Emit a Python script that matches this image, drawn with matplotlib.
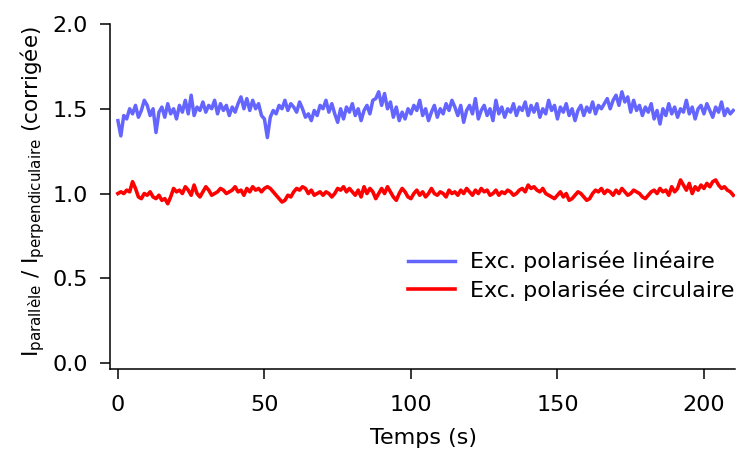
import numpy as np
import matplotlib
matplotlib.use("Agg")
import matplotlib.pyplot as plt

# time axis (s), one sample per second
temps = np.arange(0, 211)

# Exc. polarisée linéaire
lineaire = [
    1.43, 1.34, 1.46, 1.44, 1.50, 1.47, 1.52, 1.45, 1.49, 1.55,
    1.52, 1.46, 1.50, 1.36, 1.48, 1.51, 1.45, 1.53, 1.47, 1.50,
    1.44, 1.52, 1.48, 1.55, 1.47, 1.58, 1.46, 1.51, 1.49, 1.54,
    1.48, 1.52, 1.50, 1.55, 1.47, 1.53, 1.49, 1.52, 1.46, 1.51,
    1.48, 1.53, 1.57, 1.50, 1.56, 1.49, 1.55, 1.50, 1.53, 1.46,
    1.44, 1.33, 1.45, 1.49, 1.47, 1.52, 1.50, 1.55, 1.49, 1.53,
    1.51, 1.48, 1.54, 1.50, 1.45, 1.47, 1.43, 1.49, 1.46, 1.52,
    1.50, 1.55, 1.48, 1.53, 1.47, 1.42, 1.50, 1.44, 1.51, 1.48,
    1.53, 1.46, 1.50, 1.43, 1.49, 1.52, 1.47, 1.55, 1.56, 1.60,
    1.52, 1.59, 1.50, 1.54, 1.45, 1.51, 1.43, 1.48, 1.44, 1.50,
    1.47, 1.52, 1.49, 1.55, 1.46, 1.50, 1.43, 1.48, 1.52, 1.45,
    1.50, 1.47, 1.53, 1.49, 1.55, 1.51, 1.46, 1.52, 1.42, 1.49,
    1.52, 1.47, 1.56, 1.44, 1.49, 1.52, 1.46, 1.50, 1.43, 1.55,
    1.47, 1.51, 1.45, 1.50, 1.48, 1.53, 1.46, 1.51, 1.49, 1.54,
    1.46, 1.52, 1.48, 1.53, 1.45, 1.50, 1.47, 1.55, 1.49, 1.52,
    1.44, 1.51, 1.48, 1.53, 1.46, 1.50, 1.43, 1.49, 1.52, 1.46,
    1.51, 1.48, 1.54, 1.47, 1.52, 1.50, 1.53, 1.56, 1.50, 1.55,
    1.58, 1.52, 1.60, 1.54, 1.57, 1.48, 1.55, 1.49, 1.52, 1.46,
    1.51, 1.48, 1.53, 1.44, 1.49, 1.41, 1.50, 1.46, 1.53, 1.47,
    1.51, 1.45, 1.50, 1.48, 1.55, 1.47, 1.51, 1.44, 1.50, 1.52,
    1.47, 1.53, 1.49, 1.45, 1.51, 1.48, 1.54, 1.46, 1.50, 1.47, 1.49,
]

# Exc. polarisée circulaire
circulaire = [
    1.00, 1.01, 1.00, 1.02, 1.01, 1.07, 1.03, 0.98, 0.97, 1.00,
    0.99, 1.01, 0.98, 0.97, 0.99, 0.96, 0.97, 0.94, 0.98, 1.03,
    1.01, 1.02, 1.00, 1.04, 1.02, 0.99, 1.05, 1.00, 0.98, 1.01,
    1.04, 1.02, 0.99, 1.00, 1.01, 1.03, 1.02, 1.00, 1.01, 1.02,
    1.04, 1.01, 1.02, 0.99, 1.03, 1.01, 1.04, 1.02, 1.03, 1.01,
    1.03, 1.04, 1.03, 1.01, 0.99, 0.97, 0.95, 0.96, 0.99, 0.98,
    1.01, 1.03, 1.02, 1.04, 1.03, 1.00, 1.02, 0.99, 1.00, 1.01,
    0.99, 1.01, 1.00, 0.98, 1.00, 1.03, 1.02, 1.04, 1.01, 1.03,
    1.01, 0.99, 1.02, 0.98, 1.04, 1.00, 1.03, 1.01, 0.97, 1.00,
    1.03, 1.00, 1.04, 1.01, 0.98, 0.96, 1.00, 1.03, 1.01, 0.98,
    0.97, 1.00, 1.02, 0.99, 1.01, 0.98, 1.00, 1.03, 1.00, 0.99,
    1.01, 1.00, 0.98, 1.02, 1.00, 1.01, 0.99, 1.02, 1.00, 1.03,
    1.01, 0.99, 1.02, 1.00, 1.03, 1.01, 1.02, 0.99, 1.00, 1.02,
    0.99, 1.01, 1.00, 1.02, 1.01, 0.99, 1.00, 1.02, 1.03, 1.01,
    1.05, 1.03, 1.04, 1.02, 1.01, 1.03, 1.00, 0.99, 0.98, 0.97,
    0.99, 1.01, 0.98, 1.00, 0.96, 0.97, 0.99, 1.01, 1.00, 0.98,
    0.96, 0.97, 1.00, 1.02, 1.01, 1.03, 1.00, 1.02, 1.01, 0.99,
    1.02, 1.00, 1.03, 1.01, 0.99, 1.00, 1.02, 1.01, 1.00, 0.98,
    0.97, 0.99, 1.01, 1.02, 1.00, 1.03, 1.01, 1.02, 0.99, 1.04,
    1.01, 1.03, 1.08, 1.05, 1.02, 1.06, 1.00, 1.04, 1.02, 1.05,
    1.03, 1.06, 1.04, 1.07, 1.08, 1.05, 1.03, 1.04, 1.02, 1.01, 0.99,
]

labels = ["Exc. polarisée linéaire", "Exc. polarisée circulaire"]
xticks = [0, 50, 100, 150, 200]
yticks = [0.0, 0.5, 1.0, 1.5, 2.0]

plt.rcParams['font.family'] = 'DejaVu Sans'
plt.rcParams['mathtext.default'] = 'regular'

fig = plt.figure(figsize=(7.37, 4.5), dpi=100)
ax = fig.add_axes([110/737, 1 - 369/450, 625/737, 345/450])

ax.plot(temps, lineaire, color='#6464ff', lw=2.5, label=labels[0])
ax.plot(temps, circulaire, color='#ff0000', lw=2.6, label=labels[1])

ax.set_xlim(-2.7, 210.6)
ax.set_ylim(-0.035, 2.0)
ax.set_xticks(xticks)
ax.set_xticklabels([str(v) for v in xticks])
ax.set_yticks(yticks)
ax.set_yticklabels([f"{v:.1f}" for v in yticks])

for s in ['top', 'right']:
    ax.spines[s].set_visible(False)
for s in ['left', 'bottom']:
    ax.spines[s].set_linewidth(1.1)
ax.tick_params(direction='out', length=7, width=1.1, labelsize=16)
ax.tick_params(axis='y', pad=9)
ax.tick_params(axis='x', pad=12)

ax.set_xlabel("Temps (s)", fontsize=16)
ax.xaxis.set_label_coords(0.502, -0.171)
ax.set_ylabel(r"I$_{\mathregular{parallèle}}$ / I$_{\mathregular{perpendiculaire}}$ (corrigée)",
              fontsize=15.5)
ax.yaxis.set_label_coords(-0.10, 0.515)

fig.legend(loc='upper left', bbox_to_anchor=(408/737, 1 - 251/450), frameon=False,
           fontsize=16, handlelength=2.1, handletextpad=0.7, labelspacing=0.3,
           borderpad=0, borderaxespad=0)

fig.savefig("out.png", dpi=100)
